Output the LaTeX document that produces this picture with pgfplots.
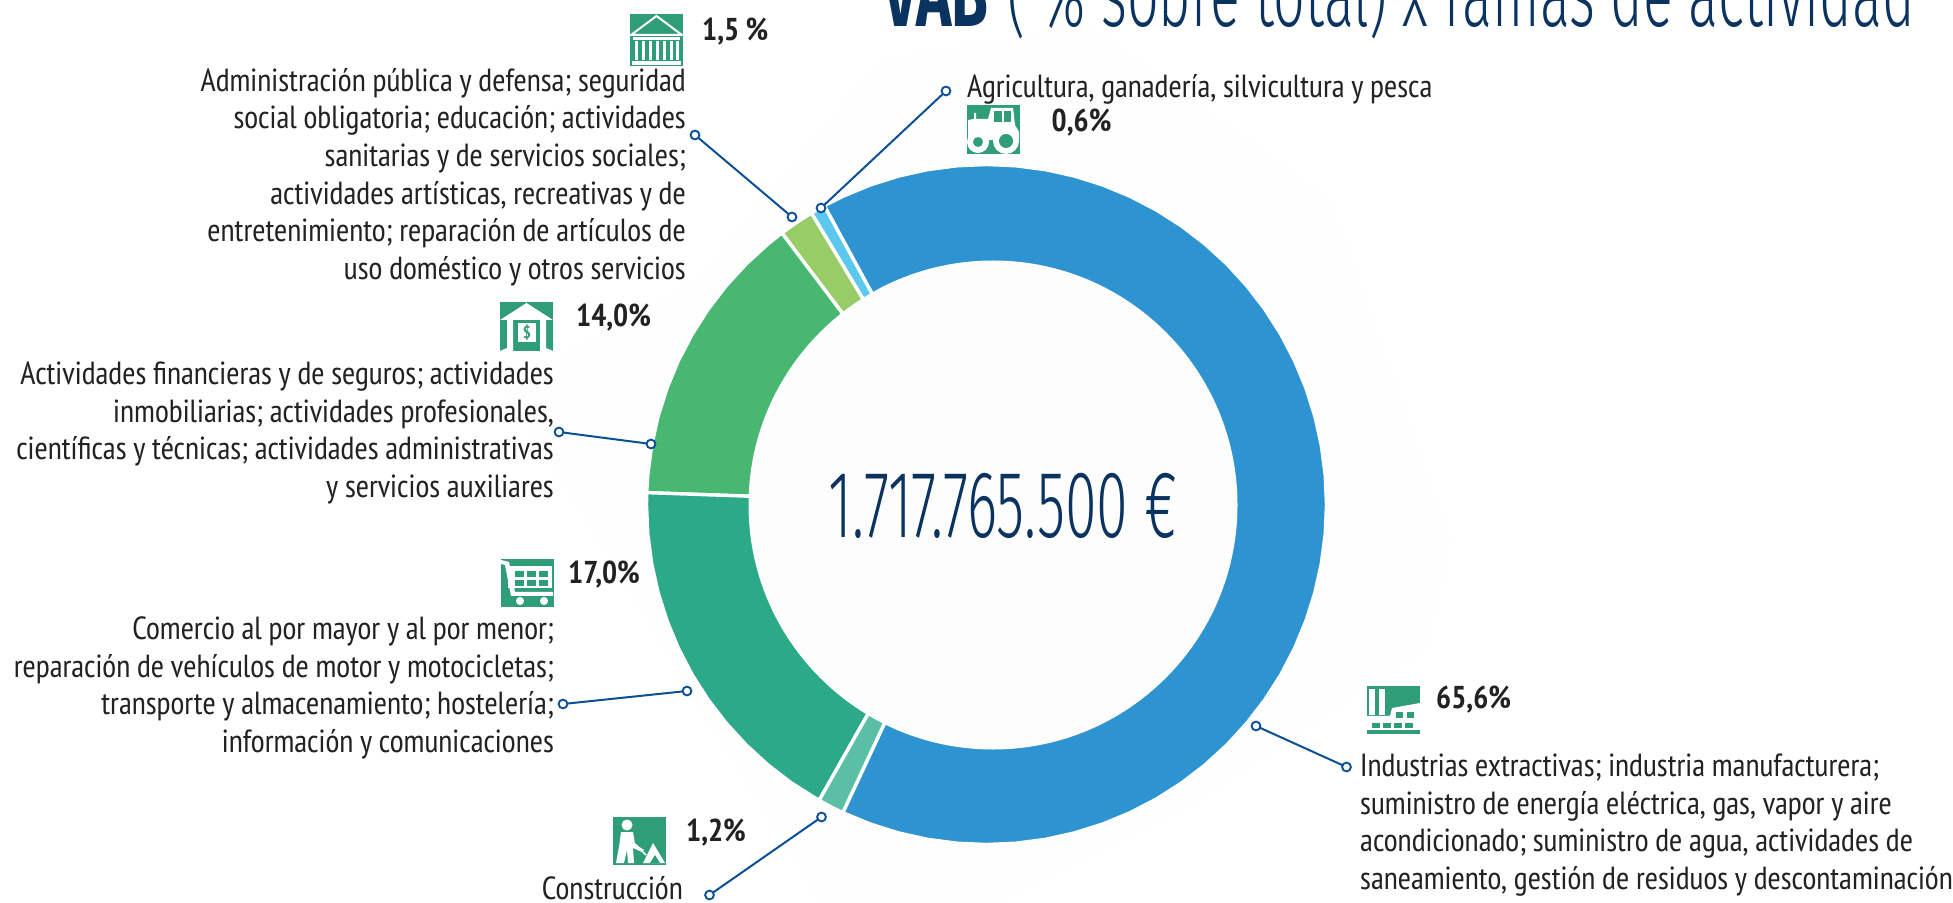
\documentclass[border=0pt]{standalone}
\usepackage{fontspec}
\usepackage{pgfplots}
\pgfplotsset{compat=1.18}
\setmainfont{PT Sans Narrow}
\newfontfamily\titlelight[FakeStretch=0.605]{Fira Sans Light}
\newfontfamily\titlebold[FakeStretch=0.65]{Fira Sans Bold}
\definecolor{navy}{HTML}{0B3360}
\definecolor{lead}{HTML}{0B4F96}
\definecolor{ink}{HTML}{222222}
\definecolor{icon}{HTML}{2F9E78}
\definecolor{pale}{HTML}{FEFEFE}
\definecolor{hole}{HTML}{FDFDFD}
\definecolor{cInd}{HTML}{2E93D1}
\definecolor{cAgr}{HTML}{5BC8EE}
\definecolor{cAdm}{HTML}{97CC66}
\definecolor{cFin}{HTML}{47B772}
\definecolor{cCom}{HTML}{2CA988}
\definecolor{cCon}{HTML}{5BBFA5}
\tikzset{
  body/.style={font=\fontsize{32}{37.6}\selectfont, text=ink, inner sep=0pt},
  pct/.style={font=\fontsize{31.6}{32}\selectfont\bfseries, text=ink, inner sep=0pt, anchor=west},
}
\pgfplotsset{
  wedge/.style={fill=#1, draw=white, line width=3.4pt, line join=round, data cs=polar},
  leader/.style={lead, line width=2pt, mark=*, mark size=4.4pt, mark options={fill=white, line width=1.9pt, draw=lead}},
}
\begin{document}
\begin{tikzpicture}
\useasboundingbox (0,0) rectangle (1953pt,902pt);
\begin{axis}[scale only axis, width=1953pt, height=902pt, hide axis, clip=false, disabledatascaling,
  xmin=-986.5, xmax=966.5, ymin=-397.5, ymax=504.5]
% faint shape behind the ring
\addplot[fill=pale, draw=none] coordinates {(103.5,479.5)(343.5,304.5)(463.5,-35.5)(439.5,-145.5)(213.5,-295.5)(13.5,-397.5)(-166.5,-397.5)(-412.5,4.5)(-482.5,114.5)(-286.5,227.5)(-106.5,444.5)} -- cycle;
% ring sectors, (angle, radius)
% Industrias 65,6 %
\addplot[wedge=cInd] coordinates {(0,0)(118.5,340)(115,340)(110,340)(105,340)(100,340)(95,340)(90,340)(85,340)(80,340)(75,340)(70,340)(65,340)(60,340)(55,340)(50,340)(45,340)(40,340)(35,340)(30,340)(25,340)(20,340)(15,340)(10,340)(5,340)(0,340)(-5,340)(-10,340)(-15,340)(-20,340)(-25,340)(-30,340)(-35,340)(-40,340)(-45,340)(-50,340)(-55,340)(-60,340)(-65,340)(-70,340)(-75,340)(-80,340)(-85,340)(-90,340)(-95,340)(-100,340)(-105,340)(-110,340)(-115,340)} -- cycle;
% Agricultura 0,6 %
\addplot[wedge=cAgr] coordinates {(0,0)(118.5,340)(121,340)} -- cycle;
% Administracion 1,5 %
\addplot[wedge=cAdm] coordinates {(0,0)(121,340)(124,340)(127,340)} -- cycle;
% Financieras 14,0 %
\addplot[wedge=cFin] coordinates {(0,0)(127,340)(130,340)(135,340)(140,340)(145,340)(150,340)(155,340)(160,340)(165,340)(170,340)(175,340)(178,340)} -- cycle;
% Comercio 17,0 %
\addplot[wedge=cCom] coordinates {(0,0)(178,340)(180,340)(185,340)(190,340)(195,340)(200,340)(205,340)(210,340)(215,340)(220,340)(225,340)(230,340)(235,340)(240.5,340)} -- cycle;
% Construccion 1,2 %
\addplot[wedge=cCon] coordinates {(0,0)(240.5,340)(243,340)(245,340)} -- cycle;
% the hole sits a little right of the ring's centre
\fill[hole] (axis cs:6.5,-0.5) circle[radius=244.5pt];
% leader lines
\addplot[leader] coordinates {(-165.5,296.5)(-40.5,413.5)};
\addplot[leader] coordinates {(-194.5,287.5)(-291.5,369.5)};
\addplot[leader] coordinates {(-335.5,60.5)(-427.5,72.5)};
\addplot[leader] coordinates {(-299.5,-186.5)(-423.5,-199.5)};
\addplot[leader] coordinates {(-165,-312.5)(-277,-390.5)};
\addplot[leader] coordinates {(269.5,-221.5)(360,-262.5)};
\end{axis}
% from here on x and y are pixels of the reference, y down
\begin{scope}[x=1pt, y=-1pt, shift={(0,902pt)}]
\clip (0,0) rectangle (1953,902);
\node[anchor=base east, inner sep=0pt, text=navy, font=\fontsize{92}{92}\selectfont] at (1915,27)
  {{\titlebold VAB} {\titlelight ( \% sobre total) x ramas de actividad}};
\node[anchor=center, inner sep=0pt, text=navy, font=\fontsize{95}{95}\titlelight] at (1003,506) {1.717.765.500 €};

\node[body, anchor=east, align=right] at (686,177) {Administración pública y defensa; seguridad\\social obligatoria; educación; actividades\\sanitarias y de servicios sociales;\\actividades artísticas, recreativas y de\\entretenimiento; reparación de artículos de\\uso doméstico y otros servicios};
\node[body, anchor=east, align=right] at (554,433) {Actividades financieras y de seguros; actividades\\inmobiliarias; actividades profesionales,\\científicas y técnicas; actividades administrativas\\y servicios auxiliares};
\node[body, anchor=east, align=right] at (554,688) {Comercio al por mayor y al por menor;\\reparación de vehículos de motor y motocicletas;\\transporte y almacenamiento; hostelería;\\información y comunicaciones};
\node[body, anchor=east] at (683,888.5) {Construcción};
\node[body, anchor=west, align=left] at (1360,825) {Industrias extractivas; industria manufacturera;\\suministro de energía eléctrica, gas, vapor y aire\\acondicionado; suministro de agua, actividades de\\saneamiento, gestión de residuos y descontaminación};
\node[body, anchor=west] at (967,89) {Agricultura, ganadería, silvicultura y pesca};

\node[pct] at (702,32) {1,5 \%};
\node[pct] at (1051.5,123) {0,6\%};
\node[pct] at (576,318) {14,0\%};
\node[pct] at (568,575) {17,0\%};
\node[pct] at (686,833) {1,2\%};
\node[pct] at (1436,700) {65,6\%};

% bank
\begin{scope}[shift={(630,14)}]
\fill[icon] (0,0) rectangle (53,52);
\draw[white, line width=2pt] (1,21) -- (26.5,2) -- (52,21) -- cycle;
\fill[white] (3,23) rectangle (50,26);
\fill[white] (2,47) rectangle (51,51);
\foreach \x in {6,13,20,27,34,41,47} \fill[white] (\x-1.5,27) rectangle (\x+1.5,46);
\end{scope}
% tractor
\begin{scope}[shift={(967,105)}]
\fill[icon] (0,0) rectangle (53,49);
\fill[white] (7,14) -- (7,8) -- (9,8) -- (9,14) -- (21,14) -- (24,3) -- (46,3) -- (48,20) -- (52,27) -- (52,34) -- (1,36) -- (1,15) -- cycle;
\fill[icon] (27,6) rectangle (35,17);
\fill[icon] (37,6) rectangle (44,17);
\fill[white] (11,37) circle[radius=11];
\fill[icon] (11,37) circle[radius=5];
\fill[white] (39,36) circle[radius=13];
\fill[icon] (39,36) circle[radius=7];
\end{scope}
% bank building with money
\begin{scope}[shift={(500,302)}]
\fill[icon] (0,0) rectangle (53,49);
\fill[white] (26.5,1) -- (53,18) -- (46,18) -- (46,46) -- (53,49) -- (40,49) -- (40,18) -- (13,18) -- (13,49) -- (0,49) -- (7,46) -- (7,18) -- (0,18) -- cycle;
\fill[white] (18,21) rectangle (36,40);
\node[text=icon, inner sep=0pt, font=\fontsize{17}{17}\selectfont\bfseries] at (27,30.5) {\$};
\end{scope}
% cart
\begin{scope}[shift={(501,559)}]
\fill[icon] (0,0) rectangle (53,48);
\fill[white] (0,1) -- (8,3) -- (14,33) -- (52,33) -- (52,37) -- (10,37) -- (4,6) -- (0,5) -- cycle;
\fill[white] (7,7) rectangle (51,29);
\foreach \x in {14,26,38} \foreach \y in {12,21} \fill[icon] (\x,\y) rectangle (\x+9,\y+6);
\fill[white] (19,42) circle[radius=4];
\fill[white] (43,42) circle[radius=4];
\end{scope}
% worker
\begin{scope}[shift={(613,817)}]
\fill[icon] (0,0) rectangle (53,48);
\fill[white] (14,8) circle[radius=5.5];
\fill[white] (8,15) -- (20,15) -- (22,27) -- (31,33) -- (29,35) -- (20,31) -- (21,46) -- (15,46) -- (14,33) -- (11,46) -- (3,46) -- (6,30) -- cycle;
\fill[white] (30,46) -- (40,26) -- (52,46) -- cycle;
\draw[white, line width=1.5pt] (22,27) -- (33,38);
\fill[icon] (37,46) -- (42,38) -- (47,46) -- cycle;
\end{scope}
% factory
\begin{scope}[shift={(1367,686)}]
\fill[icon] (0,0) rectangle (53,48);
\fill[white] (2,3) rectangle (8,29);
\fill[white] (12,3) rectangle (18,29);
\fill[white] (0,30) -- (23,30) -- (25,22) -- (53,17) -- (53,44) -- (0,44) -- cycle;
\foreach \x in {5,16,27,38} \fill[icon] (\x,37) rectangle (\x+8,42);
\fill[icon] (29,26) rectangle (36,32);
\fill[icon] (40,26) rectangle (47,32);
\end{scope}
\end{scope}
\end{tikzpicture}
\end{document}
